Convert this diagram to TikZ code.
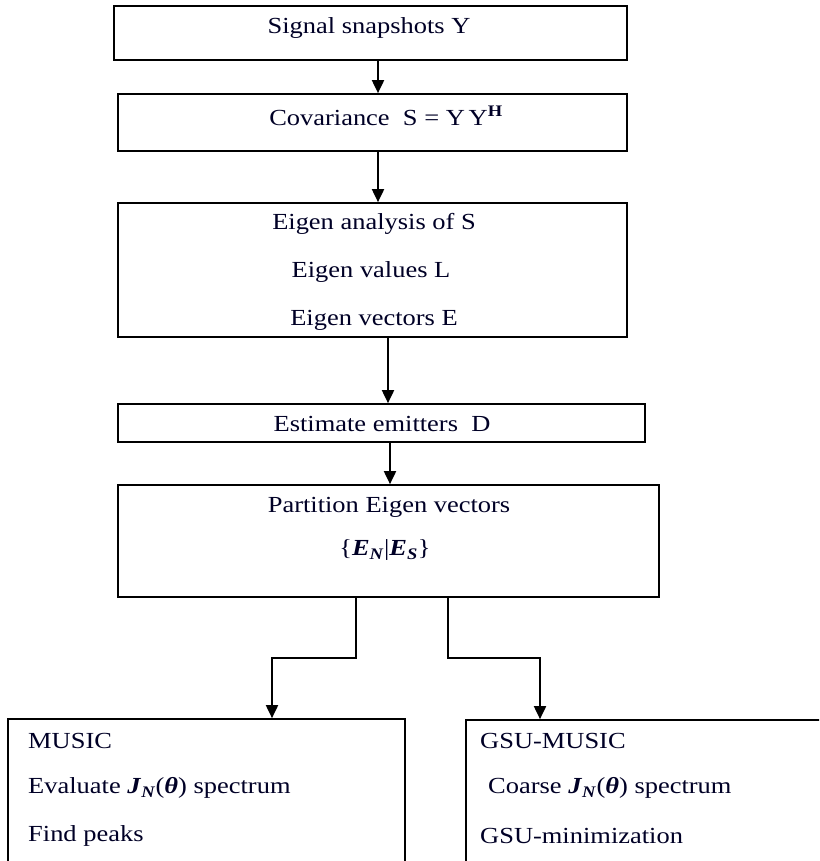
\documentclass[tikz,border=0pt]{standalone}
\usepackage{fontspec}
\setmainfont[FakeStretch=1.15]{Liberation Serif}
\usetikzlibrary{arrows.meta}
\tikzset{
  box/.style={draw, line width=1.7pt, rectangle, inner sep=0pt},
  txt/.style={font=\fontsize{23}{27}\selectfont, inner sep=0pt, text=black!85!blue},
  arr/.style={line width=1.9pt, -{Triangle[length=13pt,width=12pt]}},
}
\newcommand{\bi}[1]{\textbf{\textit{#1}}}
\begin{document}
\begin{tikzpicture}[x=1pt,y=-1pt]
\clip (0,0) rectangle (819,861);
\fill[white] (0,0) rectangle (819,861);
% boxes
\node[box, minimum width=513pt, minimum height=54pt] (b1) at (370.5,33) {};
\node[box, minimum width=509pt, minimum height=57pt] (b2) at (372.5,122.5) {};
\node[box, minimum width=509pt, minimum height=134pt] (b3) at (372.5,270) {};
\node[box, minimum width=527pt, minimum height=38pt] (b4) at (381.5,423) {};
\node[box, minimum width=541pt, minimum height=112pt] (b5) at (388.5,541) {};
\node[box, minimum width=397pt, minimum height=160pt] (b6) at (206.5,799) {};
\node[box, minimum width=380pt, minimum height=160pt] (b7) at (656,800) {};
% texts
\node[txt] (t1) at (369,28) {Signal snapshots Y};
\node[txt] (t2) at (386,116) {Covariance\ \ S = Y\,Y\textsuperscript{\textbf{H}}};
\node[txt] (t3a) at (374,224) {Eigen analysis of S};
\node[txt] (t3b) at (371,272) {Eigen values L};
\node[txt] (t3c) at (374,320) {Eigen vectors E};
\node[txt] (t4) at (382,424) {Estimate emitters\ \ D};
\node[txt] (t5a) at (389,507) {Partition Eigen vectors};
\node[txt] (t5b) at (385,550) {\{\bi{E}\textsubscript{\bi{N}}|\bi{E}\textsubscript{\bi{S}}\}};
\node[txt, anchor=west] (t6a) at (28,741) {MUSIC};
\node[txt, anchor=west] (t6b) at (28,788) {Evaluate \bi{J}\textsubscript{\bi{N}}(\bi{θ}) spectrum};
\node[txt, anchor=west] (t6c) at (28,836) {Find peaks};
\node[txt, anchor=west] (t7a) at (480,741) {GSU-MUSIC};
\node[txt, anchor=west] (t7b) at (488,788) {Coarse \bi{J}\textsubscript{\bi{N}}(\bi{θ}) spectrum};
\node[txt, anchor=west] (t7c) at (480,836) {GSU-minimization};
% connectors
\coordinate (c1) at (378,0);
\coordinate (c2) at (388,0);
\coordinate (c3) at (390,0);
\coordinate (l1) at (356,658);
\coordinate (l2) at (272,658);
\coordinate (r1) at (448,658);
\coordinate (r2) at (540,658);
\draw[arr] (b1.south -| c1) -- (b2.north -| c1);
\draw[arr] (b2.south -| c1) -- (b3.north -| c1);
\draw[arr] (b3.south -| c2) -- (b4.north -| c2);
\draw[arr] (b4.south -| c3) -- (b5.north -| c3);
\draw[arr] (b5.south -| l1) -- (l1) -- (l2) -- (b6.north -| l2);
\draw[arr] (b5.south -| r1) -- (r1) -- (r2) -- (b7.north -| r2);
\end{tikzpicture}
\end{document}
